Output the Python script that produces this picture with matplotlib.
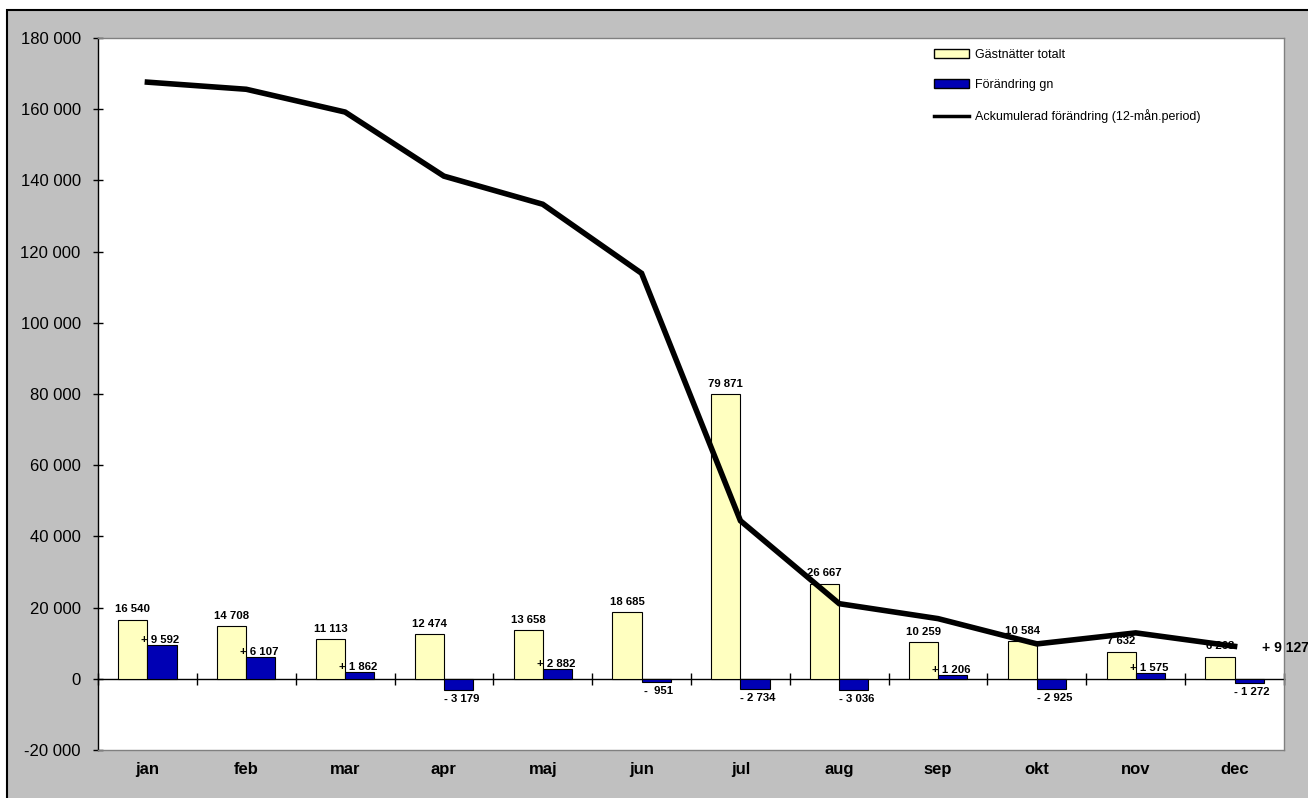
import matplotlib
matplotlib.use("Agg")
import matplotlib.pyplot as plt
import matplotlib.patches as mpatches
from matplotlib.lines import Line2D
from matplotlib.ticker import FuncFormatter
import numpy as np

plt.rcParams['font.family'] = ['Liberation Sans', 'DejaVu Sans']

months = ["jan", "feb", "mar", "apr", "maj", "jun", "jul", "aug", "sep", "okt", "nov", "dec"]
gastnatter = [16540, 14708, 11113, 12474, 13658, 18685, 79871, 26667, 10259, 10584, 7632, 6263]
forandring = [9592, 6107, 1862, -3179, 2882, -951, -2734, -3036, 1206, -2925, 1575, -1272]
ackumulerad = [167600, 165600, 159200, 141200, 133300, 113900, 44400, 21100, 16900, 9800, 12900, 9127]

labels = ["Gästnätter totalt", "Förändring gn", "Ackumulerad förändring (12-mån.period)"]

YELLOW = "#FFFFC0"
BLUE = "#0000B4"
GREY = "#C0C0C0"


def space_thousands(v):
    return f"{int(v):,}".replace(",", " ")


def signed(v):
    sign = "+" if v >= 0 else "-"
    txt = space_thousands(abs(v))
    if abs(v) < 1000:
        txt = " " + txt
    return f"{sign} {txt}"


fig = plt.figure(figsize=(13.08, 7.98), dpi=100, facecolor="white")
# grey chart area with black border (clipped on the right/bottom like the source)
bg = mpatches.Rectangle((7 / 1308, -0.05), 1.2, 1 - 10 / 798 + 0.05,
                        transform=fig.transFigure, facecolor=GREY,
                        edgecolor="black", linewidth=1.5, zorder=-10)
fig.add_artist(bg)

ax = fig.add_axes([98 / 1308, 48 / 798, (1284 - 98) / 1308, (750 - 38) / 798])
ax.set_facecolor("white")

x = np.arange(len(months))
w = 0.295
ymin, ymax = -20000, 180000

ax.bar(x - w / 2, gastnatter, w, color=YELLOW, edgecolor="black", linewidth=0.8, zorder=2)
ax.bar(x + w / 2, forandring, w, color=BLUE, edgecolor="black", linewidth=0.8, zorder=2)
ax.plot(x, ackumulerad, color="black", linewidth=4, zorder=5, solid_joinstyle="miter")

for i in range(len(months)):
    ax.annotate(space_thousands(gastnatter[i]), (x[i] - w / 2, gastnatter[i]),
                xytext=(0, 4), textcoords="offset points", ha="center", va="bottom",
                fontsize=8.2, fontweight="bold", zorder=3)
    v = forandring[i]
    if v >= 0:
        ax.annotate(signed(v), (x[i] + w / 2, v), xytext=(-1, 0),
                    textcoords="offset points", ha="center", va="bottom",
                    fontsize=8.2, fontweight="bold", zorder=3)
    else:
        ax.annotate(signed(v), (x[i] + w / 2, v), xytext=(2, -3),
                    textcoords="offset points", ha="center", va="top",
                    fontsize=8.2, fontweight="bold", zorder=3)

ax.annotate(signed(ackumulerad[-1]), (x[-1], ackumulerad[-1]), xytext=(20, -1),
            textcoords="offset points", ha="left", va="center",
            fontsize=10, fontweight="bold", annotation_clip=False, clip_on=False)

ax.set_xlim(-0.5, len(months) - 0.5)
ax.set_ylim(ymin, ymax)
ax.set_yticks(np.arange(ymin, ymax + 1, 20000))
ax.yaxis.set_major_formatter(FuncFormatter(lambda v, p: ("-" if v < 0 else "") + space_thousands(abs(v))))
ax.tick_params(axis="y", direction="inout", length=7, width=1, pad=9, labelsize=12)

for s in ["top", "right", "bottom"]:
    ax.spines[s].set_color("#808080")
    ax.spines[s].set_linewidth(1)
ax.spines["left"].set_color("black")
ax.spines["left"].set_linewidth(1)

# month labels at the bottom, no ticks
ax.set_xticks([])
for i, m in enumerate(months):
    ax.text(x[i], -0.028, m, transform=ax.get_xaxis_transform(), ha="center",
            va="center", fontsize=12, fontweight="bold")

# zero axis with ticks between categories
zero_pos = (0 - ymin) / (ymax - ymin)
sec = ax.secondary_xaxis(zero_pos)
sec.set_xticks(np.arange(-0.5, len(months), 1.0))
sec.set_xticklabels([])
sec.tick_params(direction="inout", length=9, width=1, color="black")
sec.spines["bottom"].set_color("black")
sec.spines["bottom"].set_linewidth(1)
sec.spines["bottom"].set_zorder(1)

handles = [
    mpatches.Patch(facecolor=YELLOW, edgecolor="black", linewidth=1),
    mpatches.Patch(facecolor=BLUE, edgecolor="black", linewidth=1),
    Line2D([0], [0], color="black", linewidth=2.5),
]
fig.legend(handles, labels, loc="upper left", bbox_to_anchor=(934 / 1308, 1 - 49 / 798),
           frameon=False, fontsize=9, handlelength=2.8, handleheight=0.7,
           handletextpad=0.5, labelspacing=1.45, borderpad=0, borderaxespad=0)

fig.savefig("out.png", dpi=100, facecolor="white")
